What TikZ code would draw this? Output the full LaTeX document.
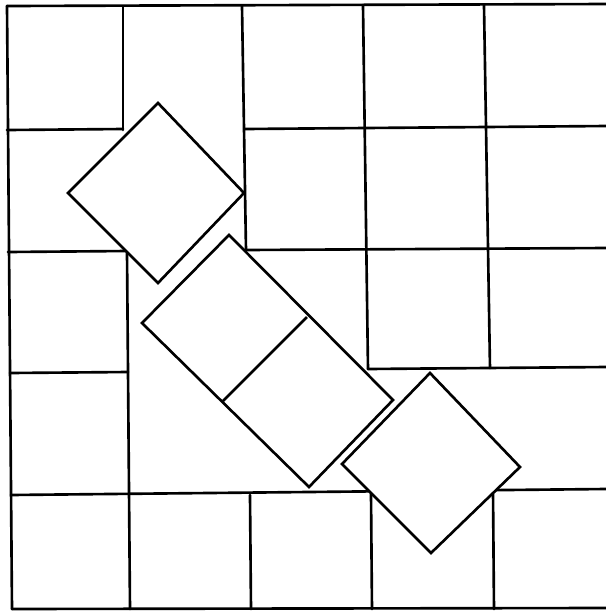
\documentclass[tikz,border=0pt]{standalone}
\usepackage{tikz}
\usetikzlibrary{calc}

\begin{document}
\begin{tikzpicture}[x=0.01cm,y=-0.01cm,
	edge/.style={line width=0.75pt,line cap=round},
	tile/.style={line width=0.75pt,line join=miter,fill=white,draw=black}]
		\useasboundingbox (0,0) rectangle (606,611);
		\draw[edge] (7,6) -- (606,4);
		\draw[edge] (7,6) -- (12,609);
		\draw[edge] (12,609) -- (606,608);
		\draw[edge] (7,130) -- (123,129);
			\draw[edge] (245,129) -- (606,126);
		\draw[edge] (8,252) -- (127,251);
			\draw[edge] (246,250) -- (606,248);
		\draw[edge] (10,373) -- (128,372);
			\draw[edge] (368,369) -- (606,367);
		\draw[edge] (11,495) -- (606,489);
		\draw[edge] (123,7) -- (123,130);
			\draw[edge] (127,252) -- (130,609);
		\draw[edge] (242,6) -- (246,250);
			\draw[edge] (250,495) -- (251,609);
		\draw[edge] (363,5) -- (368,369);
			\draw[edge] (371,493) -- (372,609);
		\draw[edge] (484,5) -- (490,368);
			\draw[edge] (493,490) -- (494,609);
		\draw[tile] (158,103) -- (244,193) -- (158,283) -- (68,193) -- cycle;
		\draw[tile] (229,235) -- (393,400) -- (309,487) -- (142,323) -- cycle;
			\draw[tile] (307,317) -- (223,401);
		\draw[tile] (430,373) -- (520,467) -- (431,553) -- (342,464) -- cycle;
	\end{tikzpicture}
\end{document}
